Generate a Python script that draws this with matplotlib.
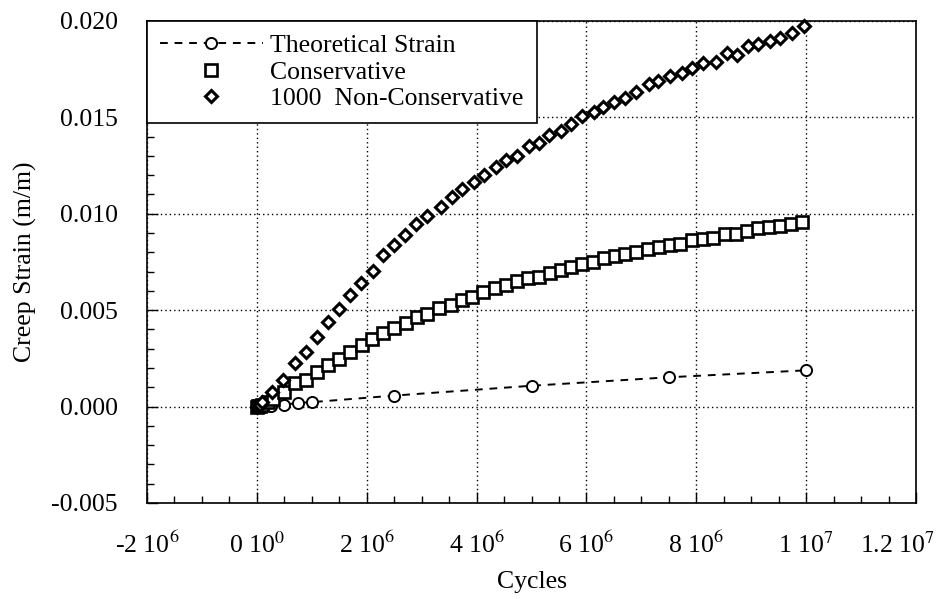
import matplotlib
matplotlib.use("Agg")
import matplotlib.pyplot as plt
import matplotlib.transforms as mtransforms
from matplotlib.ticker import FixedLocator, MultipleLocator

plt.rcParams['font.family'] = ['Liberation Serif', 'DejaVu Serif']
plt.rcParams['mathtext.fontset'] = 'stix'

# --- data (cycles, strain m/m) ---
theo_cycles = [0, 1.0e5, 2.5e5, 5.0e5, 7.5e5, 1.0e6, 2.5e6, 5.0e6, 7.5e6, 1.0e7]
theo_strain = [0.0, 0.00001, 0.00004, 0.00010, 0.00019, 0.00023, 0.00057, 0.00108, 0.00152, 0.00188]

cons_cycles = [0, 2e4, 5e4, 1.0e5, 2.0e5, 3.0e5,
               5.0e5, 7.0e5, 9.0e5, 1.10e6, 1.30e6, 1.50e6, 1.70e6, 1.91e6, 2.10e6, 2.30e6,
               2.50e6, 2.71e6, 2.91e6, 3.10e6, 3.31e6, 3.53e6, 3.74e6, 3.92e6, 4.12e6, 4.33e6,
               4.53e6, 4.73e6, 4.94e6, 5.14e6, 5.33e6, 5.53e6, 5.72e6, 5.92e6, 6.12e6, 6.32e6,
               6.52e6, 6.71e6, 6.91e6, 7.12e6, 7.32e6, 7.52e6, 7.71e6, 7.92e6, 8.12e6, 8.31e6,
               8.53e6, 8.73e6, 8.93e6, 9.13e6, 9.33e6, 9.53e6, 9.72e6, 9.92e6]
cons_strain = [0.0, 0.00002, 0.00005, 0.00010, 0.00022, 0.00040,
               0.00074, 0.00120, 0.00138, 0.00177, 0.00215, 0.00249, 0.00283, 0.00318, 0.00349, 0.00383,
               0.00409, 0.00435, 0.00464, 0.00481, 0.00509, 0.00529, 0.00555, 0.00567, 0.00593, 0.00613,
               0.00630, 0.00649, 0.00667, 0.00673, 0.00695, 0.00708, 0.00725, 0.00742, 0.00752, 0.00773,
               0.00781, 0.00793, 0.00802, 0.00819, 0.00828, 0.00838, 0.00845, 0.00862, 0.00870, 0.00876,
               0.00896, 0.00896, 0.00910, 0.00924, 0.00931, 0.00936, 0.00948, 0.00958]

ncons_cycles = [0, 2e4, 5e4, 1.0e5,
                2.7e5, 4.8e5, 6.9e5, 9.0e5, 1.10e6, 1.30e6, 1.50e6, 1.70e6, 1.90e6, 2.12e6,
                2.30e6, 2.50e6, 2.70e6, 2.90e6, 3.10e6, 3.35e6, 3.55e6, 3.74e6, 3.95e6, 4.13e6,
                4.35e6, 4.53e6, 4.74e6, 4.95e6, 5.13e6, 5.31e6, 5.53e6, 5.71e6, 5.92e6, 6.13e6,
                6.31e6, 6.50e6, 6.71e6, 6.90e6, 7.13e6, 7.31e6, 7.53e6, 7.74e6, 7.92e6, 8.13e6,
                8.35e6, 8.56e6, 8.74e6, 8.95e6, 9.13e6, 9.35e6, 9.53e6, 9.74e6, 9.96e6]
ncons_strain = [0.0, 0.00004, 0.00010, 0.00022,
                0.00074, 0.00139, 0.00225, 0.00283, 0.00362, 0.00440, 0.00507, 0.00581, 0.00640, 0.00705,
                0.00787, 0.00839, 0.00890, 0.00945, 0.00988, 0.01035, 0.01088, 0.01128, 0.01165, 0.01203,
                0.01242, 0.01277, 0.01302, 0.01354, 0.01368, 0.01406, 0.01431, 0.01465, 0.01505, 0.01526,
                0.01552, 0.01581, 0.01603, 0.01629, 0.01672, 0.01689, 0.01715, 0.01732, 0.01758, 0.01784,
                0.01787, 0.01835, 0.01826, 0.01870, 0.01883, 0.01895, 0.01912, 0.01935, 0.01972]

x_ticks = [-2e6, 0, 2e6, 4e6, 6e6, 8e6, 1e7, 1.2e7]
x_labels = ['-2 10$^{6}$', '0 10$^{0}$', '2 10$^{6}$', '4 10$^{6}$',
            '6 10$^{6}$', '8 10$^{6}$', '1 10$^{7}$', '1.2 10$^{7}$']
y_ticks = [-0.005, 0.0, 0.005, 0.010, 0.015, 0.020]
y_labels = ['-0.005', '0.000', '0.005', '0.010', '0.015', '0.020']

fig = plt.figure(figsize=(9.52, 5.99), dpi=100)
ax = fig.add_axes([0.1544, 0.1603, 0.8078, 0.8047])

ax.plot(theo_cycles, theo_strain, color='black', linestyle=(0, (4, 3.5)), linewidth=1.4,
        marker='o', markersize=8, markerfacecolor='white', markeredgecolor='black',
        markeredgewidth=1.4, label='Theoretical Strain', zorder=3)
ax.plot(cons_cycles, cons_strain, linestyle='none', marker='s', markersize=9,
        markerfacecolor='white', markeredgecolor='black', markeredgewidth=1.9,
        label='Conservative', zorder=4)
ax.plot(ncons_cycles, ncons_strain, linestyle='none', marker='D', markersize=6.3,
        markerfacecolor='white', markeredgecolor='black', markeredgewidth=2.2,
        label='1000  Non-Conservative', zorder=5, clip_on=False)

ax.set_xlim(-2e6, 1.2e7)
ax.set_ylim(-0.005, 0.020)
ax.xaxis.set_major_locator(FixedLocator(x_ticks))
ax.set_xticklabels(x_labels)
ax.xaxis.set_minor_locator(MultipleLocator(5e5))
ax.yaxis.set_major_locator(FixedLocator(y_ticks))
ax.set_yticklabels(y_labels)
ax.yaxis.set_minor_locator(MultipleLocator(0.001))

ax.tick_params(which='both', direction='in', colors='black', labelsize=18.5)
ax.tick_params(which='major', length=8, width=1.0)
ax.tick_params(axis='x', which='major', pad=21)
ax.tick_params(axis='y', which='major', pad=21)
ax.tick_params(which='minor', length=5, width=1.0)
ax.grid(True, which='major', color='black', linestyle=(0, (1, 2.2)), linewidth=1.0)

# the last label sits a little to the left of its tick, as in the original
last = ax.get_xticklabels()[-1]
last.set_transform(last.get_transform() + mtransforms.ScaledTranslation(-19 / 100, 0, fig.dpi_scale_trans))

for sp in ax.spines.values():
    sp.set_linewidth(1.2)
    sp.set_color('black')

ax.set_xlabel('Cycles', fontsize=18.5, labelpad=9)
ax.set_ylabel('Creep Strain (m/m)', fontsize=18.5, labelpad=10)

leg = ax.legend(loc='upper left', bbox_to_anchor=(0, 1), borderaxespad=0,
                fontsize=18.5, frameon=True, fancybox=False, framealpha=1,
                edgecolor='black', handlelength=4.0, handletextpad=0.3,
                labelspacing=0.15, borderpad=0.5)
leg.get_frame().set_linewidth(1.2)
leg.set_zorder(10)

fig.savefig('out.png', dpi=100)
